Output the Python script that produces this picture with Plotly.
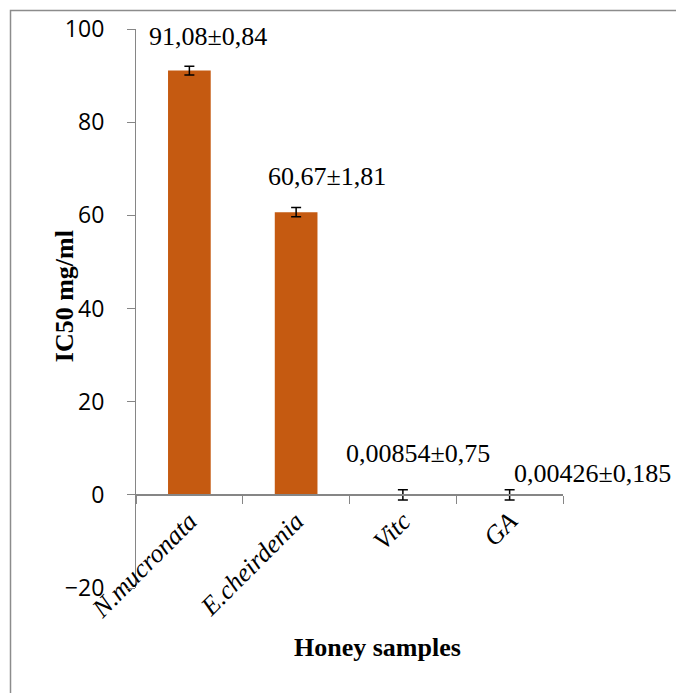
import plotly.graph_objects as go

# ---- data ----
categories = ["N.mucronata", "E.cheirdenia", "Vitc", "GA"]
ic50_values = [91.08, 60.67, 0.00854, 0.00426]
error_values = [0.95, 1.0, 1.1, 1.1]
label_texts = ["91,08±0,84", "60,67±1,81", "0,00854±0,75", "0,00426±0,185"]
y_ticks = [-20, 0, 20, 40, 60, 80, 100]

# ---- styling / layout constants ----
Y_RANGE = [-20, 100]
label_offsets = [(19, 34), (31, 36), (15, 41), (83, 21)]  # (xshift, yshift) px
AXIS_GRAY = "#868686"
SERIF = "Liberation Serif, Times New Roman, serif"
SANS = "Open Sans, Liberation Sans, sans-serif"

fig = go.Figure()
fig.add_trace(go.Bar(
    x=categories,
    y=ic50_values,
    marker=dict(color="#C55A11", line=dict(width=0)),
    error_y=dict(type="data", array=error_values, visible=True,
                 color="black", thickness=1.5, width=5),
    showlegend=False,
))

for cat, val, txt, (dx, dy) in zip(categories, ic50_values, label_texts, label_offsets):
    fig.add_annotation(x=cat, y=val, text=txt, showarrow=False,
                       xshift=dx, yshift=dy, xanchor="center", yanchor="middle",
                       font=dict(family=SERIF, size=26, color="black"))

# axis titles
fig.add_annotation(xref="paper", yref="paper", x=-0.1686, y=0.522,
                   text="<b>IC50 mg/ml</b>", textangle=-90, showarrow=False,
                   xanchor="center", yanchor="middle",
                   font=dict(family=SERIF, size=26, color="black"))
fig.add_annotation(xref="paper", yref="paper", x=0.5667, y=-0.107,
                   text="<b>Honey samples</b>", showarrow=False,
                   xanchor="center", yanchor="middle",
                   font=dict(family=SERIF, size=26, color="black"))

# outer frame
fig.add_shape(type="rect", xref="paper", yref="paper",
              x0=-0.2939, x1=1.5, y0=-0.5, y1=1.0331,
              line=dict(color="#8C8C8C", width=1.5), fillcolor="rgba(0,0,0,0)")

zero_pos = (0 - Y_RANGE[0]) / (Y_RANGE[1] - Y_RANGE[0])

fig.update_layout(
    width=676, height=693,
    margin=dict(l=136, r=113, t=29, b=105),
    paper_bgcolor="white", plot_bgcolor="white",
    bargap=0.6,
    xaxis=dict(
        type="category", range=[-0.5, 3.5],
        anchor="free", position=zero_pos, layer="above traces",
        showline=True, linecolor=AXIS_GRAY, linewidth=1.5,
        ticks="outside", tickson="boundaries", ticklen=8, tickcolor=AXIS_GRAY,
        tickangle=-45, showgrid=False, zeroline=False,
        tickfont=dict(family=SERIF, size=26, color="black", style="italic"),
    ),
    yaxis=dict(
        range=Y_RANGE, tickvals=y_ticks, domain=[0, 1],
        showline=True, linecolor=AXIS_GRAY, linewidth=1.2,
        ticks="outside", ticklen=8, tickcolor=AXIS_GRAY,
        ticklabelstandoff=18,
        showgrid=False, zeroline=False,
        tickfont=dict(family=SANS, size=23, color="black"),
    ),
)

fig.write_html(
    "out.html",
    config={"displayModeBar": False},
    post_script="document.body.style.margin='0px';document.body.style.overflow='hidden';",
)
